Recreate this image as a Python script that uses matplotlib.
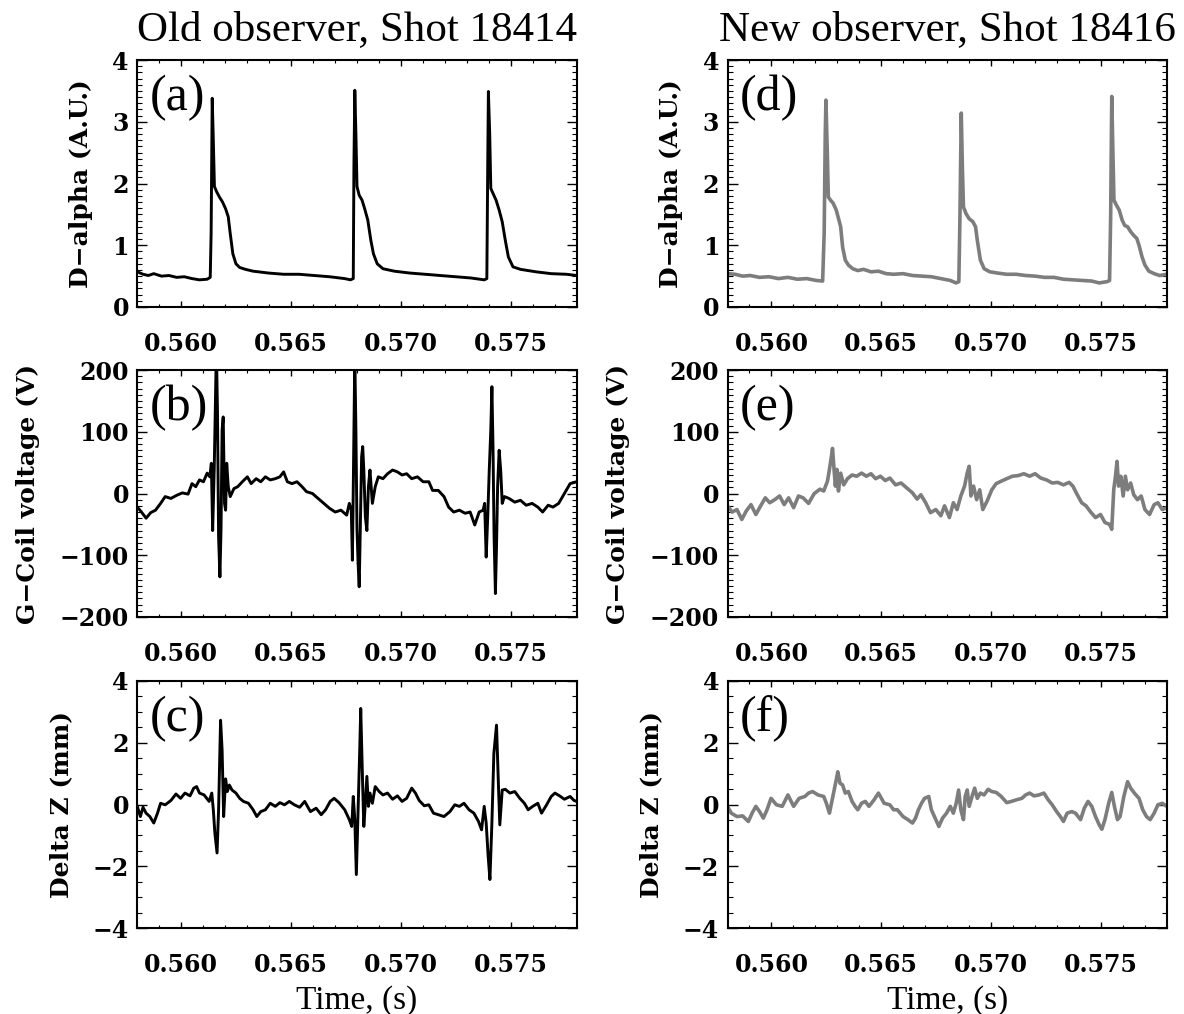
import matplotlib
matplotlib.use('Agg')
import matplotlib.pyplot as plt
from matplotlib.ticker import MultipleLocator, FormatStrFormatter

# ---- Old observer, shot 18414 ----
t_a = [0.55800, 0.55826, 0.55850, 0.55875, 0.55910, 0.55944, 0.55979, 0.56014, 0.56049, 0.56083,
       0.56118, 0.56132, 0.56136, 0.56141, 0.56146, 0.56151, 0.56162, 0.56174, 0.56188, 0.56202,
       0.56214, 0.56223, 0.56235, 0.56249, 0.56266, 0.56292, 0.56327, 0.56397, 0.56466, 0.56536,
       0.56605, 0.56675, 0.56744, 0.56770, 0.56783, 0.56786, 0.56790, 0.56795, 0.56800, 0.56810,
       0.56823, 0.56835, 0.56849, 0.56863, 0.56875, 0.56892, 0.56918, 0.56970, 0.57040, 0.57110,
       0.57179, 0.57249, 0.57318, 0.57379, 0.57391, 0.57395, 0.57398, 0.57404, 0.57409, 0.57419,
       0.57433, 0.57447, 0.57461, 0.57475, 0.57489, 0.57510, 0.57544, 0.57614, 0.57684, 0.57753,
       0.57800]
dalpha_a = [0.57, 0.53, 0.51, 0.54, 0.50, 0.51, 0.48, 0.49, 0.46, 0.44,
            0.45, 0.48, 1.19, 3.38, 2.70, 1.95, 1.86, 1.78, 1.70, 1.59,
            1.46, 1.19, 0.86, 0.70, 0.64, 0.61, 0.58, 0.55, 0.53, 0.53,
            0.51, 0.49, 0.46, 0.44, 0.46, 2.27, 3.51, 2.81, 1.95, 1.81,
            1.73, 1.59, 1.41, 1.08, 0.86, 0.70, 0.62, 0.58, 0.55, 0.53,
            0.51, 0.49, 0.47, 0.44, 0.46, 2.27, 3.49, 2.81, 1.92, 1.84,
            1.73, 1.57, 1.38, 1.08, 0.81, 0.65, 0.61, 0.57, 0.54, 0.53,
            0.51]

t_b = [0.55800, 0.55819, 0.55840, 0.55861, 0.55883, 0.55906, 0.55927, 0.55953, 0.55979, 0.56005,
       0.56031, 0.56049, 0.56066, 0.56083, 0.56101, 0.56118, 0.56130, 0.56137, 0.56143, 0.56150,
       0.56155, 0.56160, 0.56165, 0.56170, 0.56176, 0.56181, 0.56186, 0.56191, 0.56197, 0.56202,
       0.56207, 0.56214, 0.56223, 0.56240, 0.56257, 0.56278, 0.56301, 0.56318, 0.56341, 0.56362,
       0.56383, 0.56405, 0.56428, 0.56449, 0.56466, 0.56483, 0.56504, 0.56527, 0.56550, 0.56570,
       0.56597, 0.56623, 0.56649, 0.56675, 0.56701, 0.56727, 0.56753, 0.56765, 0.56774, 0.56779,
       0.56784, 0.56790, 0.56795, 0.56800, 0.56805, 0.56810, 0.56816, 0.56821, 0.56826, 0.56831,
       0.56838, 0.56845, 0.56852, 0.56859, 0.56870, 0.56883, 0.56897, 0.56918, 0.56939, 0.56962,
       0.56984, 0.57005, 0.57026, 0.57049, 0.57075, 0.57101, 0.57127, 0.57144, 0.57170, 0.57196,
       0.57217, 0.57240, 0.57266, 0.57292, 0.57315, 0.57336, 0.57356, 0.57374, 0.57381, 0.57388,
       0.57395, 0.57402, 0.57409, 0.57414, 0.57419, 0.57424, 0.57430, 0.57435, 0.57440, 0.57447,
       0.57454, 0.57461, 0.57471, 0.57492, 0.57518, 0.57544, 0.57570, 0.57597, 0.57623, 0.57645,
       0.57670, 0.57692, 0.57718, 0.57744, 0.57770, 0.57800]
gcoil_b = [-22, -30, -40, -31, -27, -16, -5, -8, -3, 1,
           -1, 16, 11, 22, 19, 33, 27, 49, -60, 38,
           135, 238, 130, -70, -135, -59, 103, 124, -16, -27,
           49, 11, -5, 8, 11, 19, 27, 16, 24, 19,
           27, 22, 24, 27, 35, 19, 16, 19, 11, 3,
           0, -8, -16, -24, -30, -27, -35, -16, -27, -108,
           38, 222, 103, -59, -113, -151, -38, 59, 76, 38,
           -38, -60, 11, 38, -16, 11, 27, 24, 32, 38,
           35, 30, 32, 24, 27, 19, 19, 5, 5, -5,
           -22, -30, -27, -32, -30, -51, -30, -27, -16, -103,
           -38, 38, 103, 173, 76, -70, -162, -86, 11, 70,
           38, -16, -5, -8, -14, -11, -19, -16, -22, -30,
           -19, -22, -16, 0, 16, 19]

t_c = [0.55800, 0.55814, 0.55826, 0.55840, 0.55857, 0.55875, 0.55892, 0.55906, 0.55927, 0.55953,
       0.55976, 0.55997, 0.56017, 0.56040, 0.56057, 0.56070, 0.56083, 0.56104, 0.56127, 0.56139,
       0.56146, 0.56153, 0.56163, 0.56170, 0.56179, 0.56186, 0.56193, 0.56202, 0.56210, 0.56219,
       0.56231, 0.56249, 0.56266, 0.56283, 0.56306, 0.56327, 0.56344, 0.56362, 0.56383, 0.56405,
       0.56428, 0.56449, 0.56470, 0.56492, 0.56515, 0.56539, 0.56562, 0.56588, 0.56614, 0.56637,
       0.56657, 0.56678, 0.56696, 0.56718, 0.56744, 0.56765, 0.56776, 0.56783, 0.56790, 0.56797,
       0.56805, 0.56812, 0.56817, 0.56824, 0.56831, 0.56838, 0.56845, 0.56852, 0.56859, 0.56870,
       0.56883, 0.56901, 0.56918, 0.56939, 0.56962, 0.56984, 0.57005, 0.57026, 0.57049, 0.57066,
       0.57083, 0.57106, 0.57127, 0.57148, 0.57170, 0.57196, 0.57223, 0.57245, 0.57266, 0.57287,
       0.57310, 0.57332, 0.57353, 0.57367, 0.57379, 0.57388, 0.57397, 0.57405, 0.57414, 0.57423,
       0.57435, 0.57443, 0.57450, 0.57461, 0.57475, 0.57496, 0.57518, 0.57541, 0.57562, 0.57579,
       0.57600, 0.57623, 0.57640, 0.57663, 0.57684, 0.57701, 0.57722, 0.57744, 0.57770, 0.57788,
       0.57800]
dz_c = [-0.06, -0.39, -0.09, -0.28, -0.39, -0.60, -0.28, 0.04, -0.01, 0.13,
        0.34, 0.20, 0.37, 0.28, 0.53, 0.58, 0.37, 0.31, 0.10, 0.37,
        -0.17, -0.92, -1.57, -0.17, 2.73, 1.76, -0.39, 0.83, 0.42, 0.63,
        0.47, 0.37, 0.20, 0.10, 0.04, -0.17, -0.39, -0.23, -0.17, 0.04,
        -0.06, 0.06, -0.01, 0.10, -0.01, -0.09, 0.10, -0.23, -0.12, -0.33,
        -0.17, 0.10, 0.20, 0.06, -0.17, -0.49, -0.71, 0.26, -0.49, -2.27,
        -0.17, 1.66, 3.11, 1.12, -0.71, 0.04, 0.91, -0.06, 0.37, 0.04,
        0.58, 0.42, 0.31, 0.37, 0.17, 0.28, 0.10, 0.20, 0.53, 0.37,
        0.13, -0.04, -0.01, -0.28, -0.33, -0.39, -0.23, -0.01, -0.06, 0.04,
        -0.17, -0.28, -0.55, -0.82, -0.06, -0.60, -1.68, -2.43, -0.60, 1.66,
        2.57, 0.80, -0.66, 0.47, 0.49, 0.37, 0.42, 0.20, 0.04, -0.17,
        -0.06, 0.04, -0.28, -0.01, 0.26, 0.37, 0.28, 0.17, 0.26, 0.13,
        0.10]

# ---- New observer, shot 18416 ----
t_d = [0.55800, 0.55834, 0.55869, 0.55903, 0.55946, 0.55989, 0.56032, 0.56075, 0.56118, 0.56161,
       0.56204, 0.56233, 0.56240, 0.56245, 0.56248, 0.56254, 0.56259, 0.56269, 0.56281, 0.56295,
       0.56307, 0.56315, 0.56324, 0.56336, 0.56350, 0.56370, 0.56393, 0.56419, 0.56453, 0.56487,
       0.56522, 0.56556, 0.56599, 0.56642, 0.56685, 0.56728, 0.56771, 0.56814, 0.56840, 0.56853,
       0.56858, 0.56864, 0.56869, 0.56874, 0.56886, 0.56900, 0.56917, 0.56929, 0.56937, 0.56951,
       0.56968, 0.56994, 0.57029, 0.57071, 0.57114, 0.57157, 0.57200, 0.57243, 0.57286, 0.57329,
       0.57372, 0.57415, 0.57458, 0.57492, 0.57527, 0.57539, 0.57544, 0.57549, 0.57554, 0.57559,
       0.57570, 0.57583, 0.57596, 0.57608, 0.57621, 0.57635, 0.57649, 0.57663, 0.57673, 0.57687,
       0.57700, 0.57718, 0.57742, 0.57767, 0.57800]
dalpha_d = [0.54, 0.53, 0.50, 0.51, 0.48, 0.49, 0.46, 0.48, 0.45, 0.46,
            0.43, 0.42, 1.19, 2.81, 3.35, 2.54, 1.78, 1.73, 1.68, 1.57,
            1.41, 1.30, 0.97, 0.76, 0.68, 0.62, 0.59, 0.61, 0.57, 0.58,
            0.54, 0.53, 0.54, 0.51, 0.50, 0.49, 0.46, 0.43, 0.39, 0.41,
            1.46, 3.14, 2.27, 1.62, 1.51, 1.43, 1.38, 1.30, 1.08, 0.76,
            0.62, 0.57, 0.55, 0.53, 0.53, 0.51, 0.50, 0.48, 0.48, 0.45,
            0.44, 0.43, 0.42, 0.39, 0.41, 0.43, 1.46, 3.41, 2.54, 1.73,
            1.65, 1.57, 1.41, 1.32, 1.30, 1.22, 1.16, 1.11, 1.00, 0.81,
            0.68, 0.58, 0.54, 0.51, 0.53]

t_e = [0.55800, 0.55821, 0.55843, 0.55865, 0.55886, 0.55907, 0.55929, 0.55951, 0.55972, 0.55992,
       0.56015, 0.56037, 0.56058, 0.56078, 0.56101, 0.56123, 0.56144, 0.56169, 0.56195, 0.56221,
       0.56238, 0.56255, 0.56264, 0.56273, 0.56278, 0.56285, 0.56291, 0.56298, 0.56305, 0.56315,
       0.56329, 0.56346, 0.56367, 0.56388, 0.56410, 0.56432, 0.56453, 0.56474, 0.56496, 0.56518,
       0.56539, 0.56565, 0.56590, 0.56616, 0.56642, 0.56663, 0.56680, 0.56702, 0.56724, 0.56748,
       0.56771, 0.56788, 0.56810, 0.56828, 0.56845, 0.56862, 0.56879, 0.56891, 0.56900, 0.56908,
       0.56920, 0.56934, 0.56948, 0.56962, 0.56982, 0.57003, 0.57023, 0.57046, 0.57071, 0.57097,
       0.57123, 0.57149, 0.57175, 0.57200, 0.57226, 0.57252, 0.57278, 0.57303, 0.57329, 0.57355,
       0.57372, 0.57389, 0.57412, 0.57432, 0.57453, 0.57475, 0.57498, 0.57518, 0.57539, 0.57549,
       0.57558, 0.57566, 0.57573, 0.57580, 0.57590, 0.57601, 0.57611, 0.57621, 0.57635, 0.57649,
       0.57666, 0.57683, 0.57700, 0.57721, 0.57742, 0.57759, 0.57779, 0.57800]
gcoil_e = [-20, -30, -26, -42, -28, -18, -34, -20, -7, -15,
           -10, -4, -18, -7, -23, -4, -7, -16, 0, 7,
           4, 20, 39, 60, 73, 39, 12, 39, 4, 33,
           14, 24, 30, 28, 33, 28, 32, 24, 28, 21,
           25, 14, 17, 9, 1, -9, -2, -15, -31, -26,
           -36, -20, -39, -15, -26, -4, 12, 33, 44, -4,
           12, -10, 6, -26, -12, 6, 16, 20, 24, 28,
           29, 32, 28, 32, 25, 22, 17, 18, 14, 18,
           12, 0, -15, -20, -30, -39, -34, -47, -50, -58,
           6, 28, 52, 12, 28, -4, 28, 6, 17, -2,
           -10, -4, -26, -34, -18, -15, -26, -23]

t_f = [0.55800, 0.55817, 0.55843, 0.55869, 0.55895, 0.55912, 0.55929, 0.55946, 0.55963, 0.55980,
       0.55998, 0.56023, 0.56049, 0.56075, 0.56101, 0.56126, 0.56152, 0.56169, 0.56187, 0.56212,
       0.56238, 0.56250, 0.56264, 0.56281, 0.56295, 0.56302, 0.56312, 0.56324, 0.56336, 0.56350,
       0.56367, 0.56381, 0.56393, 0.56410, 0.56427, 0.56444, 0.56467, 0.56487, 0.56513, 0.56539,
       0.56556, 0.56573, 0.56599, 0.56621, 0.56642, 0.56656, 0.56669, 0.56683, 0.56697, 0.56716,
       0.56728, 0.56745, 0.56762, 0.56779, 0.56797, 0.56814, 0.56828, 0.56841, 0.56852, 0.56862,
       0.56874, 0.56882, 0.56891, 0.56900, 0.56913, 0.56925, 0.56937, 0.56951, 0.56968, 0.56986,
       0.57003, 0.57023, 0.57046, 0.57071, 0.57092, 0.57114, 0.57140, 0.57157, 0.57175, 0.57195,
       0.57218, 0.57240, 0.57260, 0.57278, 0.57298, 0.57315, 0.57329, 0.57346, 0.57367, 0.57384,
       0.57407, 0.57424, 0.57441, 0.57458, 0.57475, 0.57492, 0.57504, 0.57518, 0.57535, 0.57549,
       0.57561, 0.57575, 0.57587, 0.57604, 0.57621, 0.57635, 0.57652, 0.57673, 0.57690, 0.57707,
       0.57724, 0.57742, 0.57759, 0.57779, 0.57800]
dz_f = [-0.06, -0.28, -0.39, -0.37, -0.55, -0.28, -0.06, -0.23, -0.44, -0.17,
        0.20, -0.01, -0.06, 0.31, -0.06, 0.20, 0.26, 0.37, 0.42, 0.31,
        0.26, 0.04, -0.28, 0.31, 0.80, 1.06, 0.69, 0.63, 0.37, 0.42,
        0.10, -0.06, -0.17, 0.04, 0.10, -0.06, 0.15, 0.37, 0.04, -0.01,
        -0.17, -0.17, -0.39, -0.49, -0.60, -0.44, -0.17, 0.04, 0.20, 0.26,
        -0.17, -0.44, -0.71, -0.44, -0.28, -0.06, -0.28, 0.04, 0.47, -0.17,
        -0.49, 0.26, 0.47, -0.06, 0.26, 0.53, 0.20, 0.37, 0.31, 0.49,
        0.42, 0.39, 0.26, 0.06, 0.10, 0.15, 0.20, 0.31, 0.37, 0.28,
        0.31, 0.37, 0.15, -0.01, -0.23, -0.39, -0.55, -0.28, -0.23, -0.28,
        -0.49, -0.12, 0.10, -0.06, -0.39, -0.66, -0.80, -0.49, 0.04, 0.39,
        -0.06, -0.49, -0.39, 0.26, 0.74, 0.53, 0.37, 0.20, -0.17, -0.39,
        -0.49, -0.28, -0.01, 0.04, -0.06]

titles = ['Old observer, Shot 18414', 'New observer, Shot 18416']
ylabels = ['D\u2212alpha (A.U.)', 'G\u2212Coil voltage (V)', 'Delta Z (mm)']
tags = [['(a)', '(b)', '(c)'], ['(d)', '(e)', '(f)']]

plt.rcParams['font.family'] = 'DejaVu Serif'
plt.rcParams['font.weight'] = 'bold'
plt.rcParams['axes.unicode_minus'] = True

fig = plt.figure(figsize=(11.84, 10.14), dpi=100)

W, H = 1184.0, 1014.0
col_x = [137.3 / W, 727.5 / W]
ax_w = 439.4 / W
ax_h = 247.0 / H
row_bottom = [1 - 307 / H, 1 - 617 / H, 1 - 928 / H]

ylims = [(0, 4), (-200, 200), (-4, 4)]
ymajor = [1, 100, 2]
yminor = [0.1, 10, 0.5]

series = [[(t_a, dalpha_a), (t_b, gcoil_b), (t_c, dz_c)],
          [(t_d, dalpha_d), (t_e, gcoil_e), (t_f, dz_f)]]
colors = ['black', '#7d7d7d']
widths = [2.1, 2.6]

for c in range(2):
    for r in range(3):
        ax = fig.add_axes([col_x[c], row_bottom[r], ax_w, ax_h])
        t, v = series[c][r]
        ax.plot(t, v, color=colors[c], lw=widths[c])
        ax.set_xlim(0.558, 0.578)
        ax.set_ylim(*ylims[r])
        ax.xaxis.set_major_locator(MultipleLocator(0.005))
        ax.xaxis.set_minor_locator(MultipleLocator(0.001))
        ax.xaxis.set_major_formatter(FormatStrFormatter('%.3f'))
        ax.yaxis.set_major_locator(MultipleLocator(ymajor[r]))
        ax.yaxis.set_minor_locator(MultipleLocator(yminor[r]))
        ax.tick_params(which='both', direction='in', top=True, right=True, labelsize=17)
        ax.tick_params(axis='x', which='major', length=4, width=1, pad=18)
        ax.tick_params(axis='x', which='minor', length=2, width=0.8)
        ax.tick_params(axis='y', which='major', length=7, width=1, pad=6)
        ax.tick_params(axis='y', which='minor', length=3.5, width=0.8)
        for s in ax.spines.values():
            s.set_linewidth(1.5)
        ax.set_ylabel(ylabels[r], fontsize=18, fontweight='bold', labelpad=14)
        ax.text(0.028, 0.94, tags[c][r], transform=ax.transAxes, ha='left', va='top',
                family='Liberation Serif', fontsize=36, fontweight='normal')
        if r == 0:
            ax.set_title(titles[c], family='Liberation Serif', fontsize=31,
                         fontweight='normal', pad=14)
        if r == 2:
            ax.set_xlabel('Time, (s)', family='Liberation Serif', fontsize=24,
                          fontweight='normal', labelpad=6)

fig.savefig('out.png', dpi=100)
